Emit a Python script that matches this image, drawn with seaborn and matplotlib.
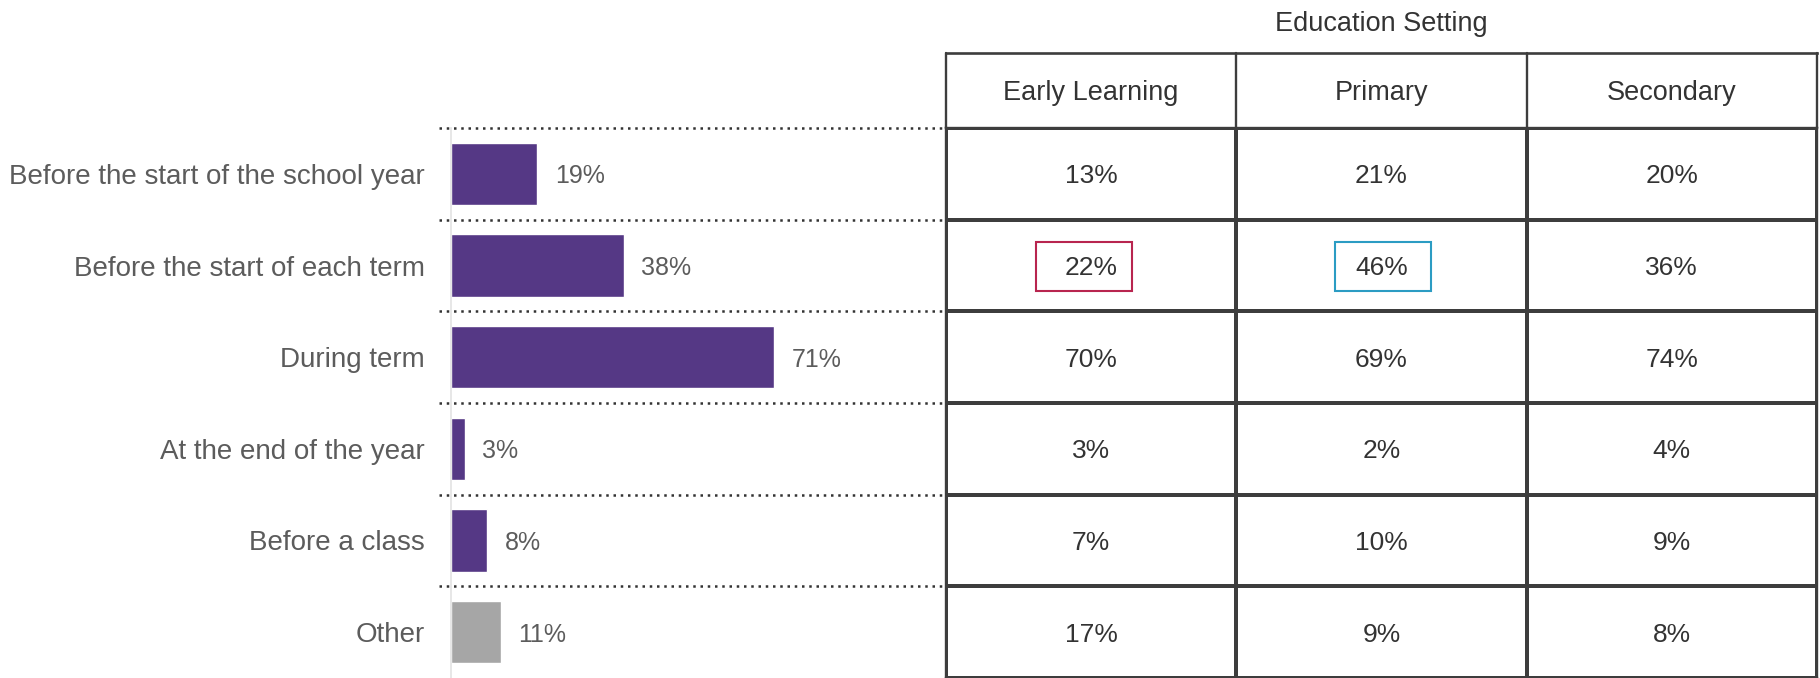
import matplotlib
matplotlib.use("Agg")
import matplotlib.pyplot as plt
from matplotlib.colors import ListedColormap
from matplotlib.patches import Rectangle
import pandas as pd
import seaborn as sns

sns.set_theme(style="white")
plt.rcParams['font.family'] = ['Liberation Sans', 'DejaVu Sans']

# data
timing = ["Before the start of the school year", "Before the start of each term",
          "During term", "At the end of the year", "Before a class", "Other"]
overall = [19, 38, 71, 3, 8, 11]
settings = ["Early Learning", "Primary", "Secondary"]
early_learning = [13, 22, 70, 3, 7, 17]
primary = [21, 46, 69, 2, 10, 9]
secondary = [20, 36, 74, 4, 9, 8]

purple = "#553885"
grey = "#a6a6a6"
bar_colors = [purple] * 5 + [grey]
label_col = "#5c5c5c"
dark = "#333333"
line_col = "#3d3d3d"

W, H = 1820, 678
fig = plt.figure(figsize=(W / 100, H / 100), dpi=100)

# bar chart
ax1 = fig.add_axes([451 / W, 0.0, (946 - 451) / W, 1 - 128 / H])
df = pd.DataFrame({"timing": timing, "pct": overall})
sns.barplot(data=df, x="pct", y="timing", hue="timing", palette=bar_colors,
            legend=False, width=0.68, saturation=1, ax=ax1)
ax1.set_xlim(0, (946 - 451) / 4.55)
ax1.set_ylim(5.5, -0.5)
ax1.set_xlabel("")
ax1.set_ylabel("")
ax1.set_xticks([])
for s in ["top", "right", "bottom"]:
    ax1.spines[s].set_visible(False)
ax1.spines["left"].set_color("#e3e3e3")
ax1.spines["left"].set_linewidth(1.2)
ax1.tick_params(axis="y", length=0, pad=19, labelsize=20, labelcolor=label_col)
for lbl in ax1.get_yticklabels():
    lbl.set_va("center_baseline")
for i, v in enumerate(overall):
    ax1.text(v + 3.8, i, f"{v}%", va="center_baseline", ha="left", fontsize=18,
             color=label_col)
ax1.hlines([-0.5, 0.5, 1.5, 2.5, 3.5, 4.5], -0.025, 1.0,
           transform=ax1.get_yaxis_transform(), colors="#333333",
           linestyles=(0, (1, 1.9)), linewidth=1.8, clip_on=False)

# table
ax2 = fig.add_axes([946 / W, 0.0, (1817 - 946) / W, 1 - 128 / H])
tbl = pd.DataFrame({"Early Learning": early_learning, "Primary": primary,
                    "Secondary": secondary}, index=timing)
annot = tbl.map(lambda v: f"{v}%")
sns.heatmap(tbl, annot=annot, fmt="", cmap=ListedColormap(["white"]), cbar=False,
            linewidths=1.7, linecolor=line_col, xticklabels=False, yticklabels=False,
            annot_kws={"fontsize": 19, "color": dark, "va": "center_baseline"}, ax=ax2)
ax2.set_xlabel("")
ax2.set_ylabel("")
for s in ax2.spines.values():
    s.set_visible(True)
    s.set_color(line_col)
    s.set_linewidth(1.7)

row_h = (1 - 128 / H) * H / 6
hdr = -(128 - 53) / row_h
ax2.plot([0, 3], [hdr, hdr], color=line_col, lw=1.9, clip_on=False, solid_capstyle="projecting")
for x in range(4):
    ax2.plot([x, x], [hdr, 0], color=line_col, lw=1.7, clip_on=False)
for j, name in enumerate(settings):
    ax2.text(j + 0.5, hdr / 2, name, ha="center", va="center_baseline", fontsize=19.5,
             color=dark)
ax2.text(1.5, -(128 - 21) / row_h, "Education Setting", ha="center", va="center_baseline",
         fontsize=19.5, color=dark)

# highlighted cells
ax2.add_patch(Rectangle((0.31, 1.24), 0.33, 0.54, fill=False, edgecolor="#b8254f", lw=1.5))
ax2.add_patch(Rectangle((1.34, 1.24), 0.33, 0.54, fill=False, edgecolor="#2b9cc3", lw=1.5))

fig.savefig("out.png", dpi=100)
